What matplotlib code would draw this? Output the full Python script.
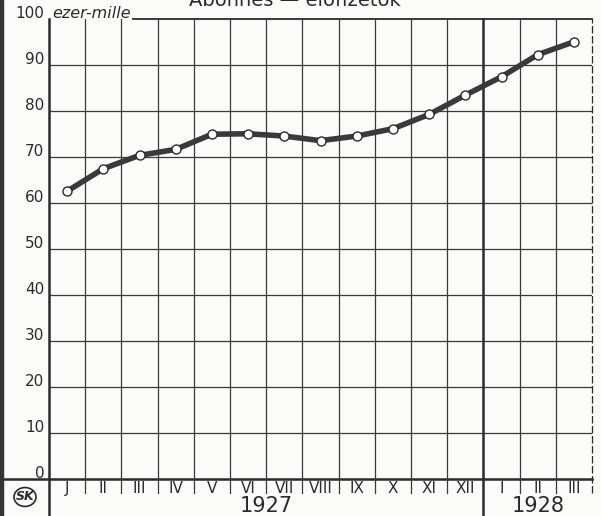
import numpy as np
import matplotlib.pyplot as plt
from matplotlib.patches import Circle, Rectangle

# data (thousands)
months = ["J", "II", "III", "IV", "V", "VI", "VII", "VIII", "IX", "X", "XI", "XII", "I", "II", "III"]
values = [62.6, 67.5, 70.4, 71.7, 75.0, 75.1, 74.6, 73.6, 74.6, 76.2, 79.3, 83.5, 87.5, 92.3, 95.1]
years = ["1927", "1928"]
year_spans = [(0, 11), (12, 14)]
yticks = [0, 10, 20, 30, 40, 50, 60, 70, 80, 90, 100]

ink = "#2b2b2b"
W, H = 601, 516

fig = plt.figure(figsize=(W / 100, H / 100), dpi=100)
fig.patch.set_facecolor("#fbfbfa")
ax = fig.add_axes([49 / W, (H - 479) / H, (592 - 49) / W, (479 - 19.3) / H])
ax.set_facecolor("none")
ax.set_xlim(-0.5, len(months) - 0.5)
ax.set_ylim(0, 100)
for s in ax.spines.values():
    s.set_visible(False)
ax.set_xticks([])
ax.set_yticks([])

x = np.arange(len(months))

# horizontal grid
for v in yticks[1:-1]:
    ax.axhline(v, color="#3a3a3a", lw=0.9, zorder=1)
ax.plot([0.155, 1], [100, 100], transform=ax.get_yaxis_transform(), color=ink, lw=1.3, clip_on=False)
# zero line runs out to the left edge
ax.plot([-49 / 543, 1], [0, 0], transform=ax.get_yaxis_transform(), color=ink, lw=1.8, clip_on=False)

# vertical grid, with short ticks under the axis
tick_len = 14 / 460 * 100
for k in range(1, len(months)):
    xb = k - 0.5
    if k == 12:
        ax.plot([xb, xb], [-36 / 4.6, 100], color=ink, lw=1.8, clip_on=False)
    else:
        ax.plot([xb, xb], [-tick_len, 100], color="#3a3a3a", lw=0.9, clip_on=False)
ax.plot([-0.5, -0.5], [-36 / 4.6, 100], color=ink, lw=1.8, clip_on=False)
ax.plot([14.5, 14.5], [-tick_len, 100], color=ink, lw=0.9, ls=(0, (6, 2)), clip_on=False)

# series
ax.plot(x, values, color="#3a3a3a", lw=4.0, zorder=3, solid_capstyle="round")
ax.plot(x, values, ls="none", marker="o", ms=6.5, mfc="white", mec=ink, mew=1.0, zorder=4)

# y labels
for v in yticks:
    ax.annotate(str(v), xy=(-0.5, v), xytext=(-3.5, 4), textcoords="offset points",
                ha="right", va="center", fontsize=11, color=ink, annotation_clip=False)
ax.annotate("ezer-mille", xy=(-0.5, 100), xytext=(2, 4.5), textcoords="offset points",
            ha="left", va="center", fontsize=11.5, style="italic", color=ink, annotation_clip=False)

# month labels
for xi, m in zip(x, months):
    ax.text(xi, -9.5 / 4.6, m, ha="center", va="center", fontsize=11, color=ink)

# year labels
for yr, (a, b) in zip(years, year_spans):
    ax.text((a + b) / 2, -27 / 4.6, yr, ha="center", va="center", fontsize=15, color=ink)

# title, cut off by the top edge as in the scan
fig.text(295 / W, 1.0 - 1 / H, "Abonnés — előfizetők", ha="center", va="center", fontsize=14, color=ink)

# emblem bottom left
fig.patches.append(Circle((25 / W, (H - 497) / H), 11 / W, transform=fig.transFigure,
                          fill=False, ec=ink, lw=1.2))
fig.text(25 / W, (H - 497) / H, "SK", ha="center", va="center", fontsize=9, style="italic",
         color=ink, fontweight="bold")

# dark scan border on the left
fig.patches.append(Rectangle((0, 0), 3 / W, 1, transform=fig.transFigure, color="#333333"))

fig.savefig("out.png", dpi=100, facecolor=fig.get_facecolor())
